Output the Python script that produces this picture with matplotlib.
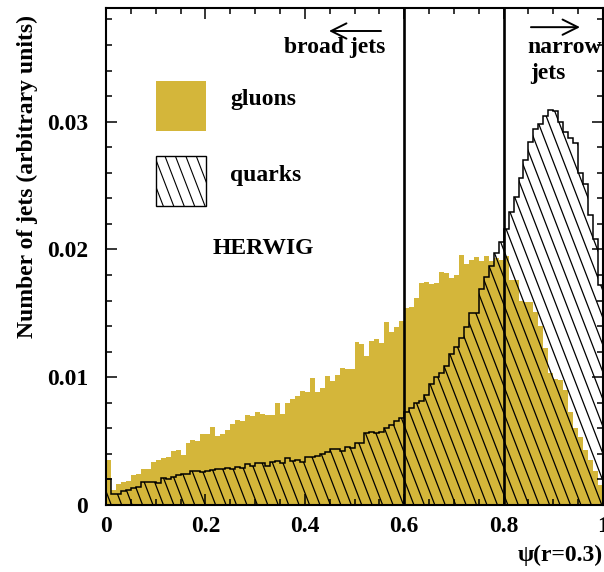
import numpy as np
import matplotlib
matplotlib.use("Agg")
import matplotlib.pyplot as plt
from matplotlib.patches import Rectangle
from matplotlib.ticker import MultipleLocator, FixedLocator, FixedFormatter

plt.rcParams['font.family'] = ['Liberation Serif', 'DejaVu Serif']
plt.rcParams['font.weight'] = 'bold'

# jet shape psi(r=0.3), 100 bins on [0, 1]
edges = np.linspace(0.0, 1.0, 101)

gluons = [
    0.00352, 0.00117, 0.00164, 0.00183, 0.00190, 0.00235, 0.00243, 0.00282, 0.00285, 0.00334,
    0.00350, 0.00366, 0.00378, 0.00423, 0.00431, 0.00392, 0.00483, 0.00509, 0.00501, 0.00553,
    0.00553, 0.00608, 0.00540, 0.00556, 0.00587, 0.00634, 0.00666, 0.00655, 0.00702, 0.00697,
    0.00731, 0.00710, 0.00702, 0.00707, 0.00799, 0.00713, 0.00796, 0.00830, 0.00851, 0.00890,
    0.00887, 0.00995, 0.00882, 0.00914, 0.01010, 0.00971, 0.01020, 0.01075, 0.01067, 0.01067,
    0.01276, 0.01261, 0.01169, 0.01287, 0.01297, 0.01268, 0.01431, 0.01355, 0.01391, 0.01441,
    0.01540, 0.01553, 0.01618, 0.01741, 0.01749, 0.01731, 0.01741, 0.01822, 0.01814, 0.01775,
    0.01801, 0.01960, 0.01890, 0.01920, 0.01940, 0.01910, 0.01950, 0.01910, 0.01930, 0.01920,
    0.01950, 0.01760, 0.01760, 0.01600, 0.01590, 0.01590, 0.01510, 0.01400, 0.01230, 0.01030,
    0.00990, 0.00980, 0.00900, 0.00730, 0.00600, 0.00530, 0.00430, 0.00350, 0.00270, 0.00160,
]

quarks = [
    0.00204, 0.00084, 0.00086, 0.00112, 0.00120, 0.00136, 0.00144, 0.00183, 0.00183, 0.00178,
    0.00175, 0.00209, 0.00206, 0.00222, 0.00235, 0.00243, 0.00243, 0.00269, 0.00266, 0.00260,
    0.00264, 0.00272, 0.00279, 0.00282, 0.00287, 0.00279, 0.00300, 0.00287, 0.00324, 0.00305,
    0.00329, 0.00326, 0.00308, 0.00334, 0.00347, 0.00331, 0.00366, 0.00345, 0.00352, 0.00337,
    0.00373, 0.00376, 0.00384, 0.00397, 0.00413, 0.00439, 0.00439, 0.00423, 0.00457, 0.00444,
    0.00483, 0.00483, 0.00566, 0.00574, 0.00561, 0.00570, 0.00600, 0.00624, 0.00658, 0.00679,
    0.00730, 0.00757, 0.00796, 0.00817, 0.00861, 0.00948, 0.01005, 0.01036, 0.01088, 0.01182,
    0.01240, 0.01305, 0.01396, 0.01501, 0.01500, 0.01689, 0.01788, 0.01872, 0.01976, 0.02062,
    0.02160, 0.02297, 0.02414, 0.02558, 0.02702, 0.02845, 0.02942, 0.02984, 0.03041, 0.03093,
    0.03080, 0.02994, 0.02923, 0.02871, 0.02832, 0.02600, 0.02510, 0.02270, 0.02080, 0.01720,
]

x_ticks = [0.0, 0.2, 0.4, 0.6, 0.8, 1.0]
x_labels = ['0', '0.2', '0.4', '0.6', '0.8', '1']
y_ticks = [0.0, 0.01, 0.02, 0.03]
y_labels = ['0', '0.01', '0.02', '0.03']
cuts = [0.6, 0.8]

GOLD = '#d4b63a'
FS = 17


def steep_hatch(ax, clip, spacing=0.021, slope=2.6, lw=0.9):
    # hatch lines in axes fraction, clipped to the given patch
    for x0 in np.arange(-0.5, 1.05, spacing):
        ln, = ax.plot([x0, x0 + 1.0 / slope], [1.0, 0.0], transform=ax.transAxes,
                      color='black', lw=lw, solid_capstyle='butt', zorder=3)
        ln.set_clip_path(clip)


fig = plt.figure(figsize=(6.04, 5.72), dpi=100)
ax = fig.add_axes([106 / 604, 67 / 572, 497 / 604, 497 / 572])

ax.stairs(gluons, edges, fill=True, color=GOLD, lw=0, zorder=1)

qfill = ax.stairs(quarks, edges, fill=True, facecolor='none', edgecolor='none', zorder=2)
steep_hatch(ax, qfill)
ax.stairs(quarks, edges, fill=False, color='black', lw=1.1, zorder=4)

for c in cuts:
    ax.axvline(c, color='black', lw=1.9, zorder=5)

ax.set_xlim(0, 1)
ax.set_ylim(0, 0.0389)

ax.xaxis.set_major_locator(FixedLocator(x_ticks))
ax.xaxis.set_major_formatter(FixedFormatter(x_labels))
ax.xaxis.set_minor_locator(MultipleLocator(0.05))
ax.yaxis.set_major_locator(FixedLocator(y_ticks))
ax.yaxis.set_major_formatter(FixedFormatter(y_labels))
ax.yaxis.set_minor_locator(MultipleLocator(0.002))
ax.tick_params(which='both', direction='in', top=True, right=True, width=1.1, labelsize=FS)
ax.tick_params(which='major', length=8)
ax.tick_params(which='minor', length=4)
ax.tick_params(axis='x', pad=8)
ax.tick_params(axis='y', pad=13)
for s in ax.spines.values():
    s.set_linewidth(1.5)
    s.set_zorder(6)

# key
ax.add_patch(Rectangle((0.1006, 0.02929), 0.1006, 0.00392, facecolor=GOLD, edgecolor='none'))
qbox = Rectangle((0.1006, 0.02341), 0.1006, 0.00392, facecolor='none', edgecolor='black', lw=1.0,
                 zorder=4)
ax.add_patch(qbox)
steep_hatch(ax, qbox, lw=0.8)
ax.text(0.2495, 0.0317, 'gluons', fontsize=FS, va='center', ha='left')
ax.text(0.2495, 0.0258, 'quarks', fontsize=FS, va='center', ha='left')
ax.text(0.2153, 0.0201, 'HERWIG', fontsize=FS, va='center', ha='left')

ax.text(0.5614, 0.0358, 'broad jets', fontsize=FS, va='center', ha='right')
ax.annotate('', xy=(0.4487, 0.0371), xytext=(0.5533, 0.0371),
            arrowprops=dict(arrowstyle='->,head_length=1.1,head_width=0.55', lw=1.4, color='black',
                            shrinkA=0, shrinkB=0))
ax.text(0.847, 0.0358, 'narrow', fontsize=FS, va='center', ha='left', clip_on=False)
ax.text(0.853, 0.0338, 'jets', fontsize=FS, va='center', ha='left')
ax.annotate('', xy=(0.9537, 0.0374), xytext=(0.855, 0.0374),
            arrowprops=dict(arrowstyle='->,head_length=1.1,head_width=0.55', lw=1.4, color='black',
                            shrinkA=0, shrinkB=0))

fig.text(603 / 604, 1 - 555 / 572, 'ψ(r=0.3)', fontsize=FS, ha='right', va='center')
fig.text(27 / 604, 1 - 176 / 572, 'Number of jets (arbitrary units)', fontsize=FS,
         rotation=90, ha='center', va='center')

fig.savefig('out.png', dpi=100)
